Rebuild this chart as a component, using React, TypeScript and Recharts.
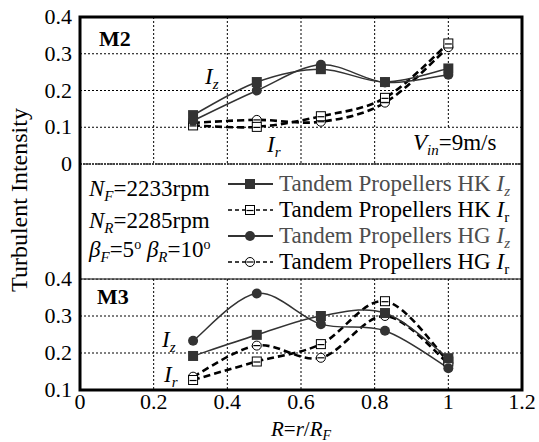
import React from 'react';
import { LineChart, Line, XAxis, YAxis, CartesianGrid } from 'recharts';

// ---- data ----
const radius = [0.307, 0.48, 0.654, 0.828, 1.0];
const xTicks = [0, 0.2, 0.4, 0.6, 0.8, 1, 1.2];
const m2YTicks = [0, 0.1, 0.2, 0.3, 0.4];
const m3YTicks = [0.1, 0.2, 0.3, 0.4];

const m2HkIz = [0.133, 0.223, 0.258, 0.223, 0.26];
const m2HgIz = [0.118, 0.2, 0.27, 0.222, 0.243];
const m2HkIr = [0.105, 0.101, 0.13, 0.18, 0.328];
const m2HgIr = [0.112, 0.12, 0.115, 0.167, 0.318];

const m3HkIz = [0.192, 0.249, 0.3, 0.308, 0.186];
const m3HgIz = [0.233, 0.361, 0.278, 0.26, 0.159];
const m3HkIr = [0.127, 0.177, 0.224, 0.34, 0.177];
const m3HgIr = [0.136, 0.22, 0.187, 0.3, 0.172];

const build = (hkIz: number[], hgIz: number[], hkIr: number[], hgIr: number[]) =>
  radius.map((r, i) => ({ r, hkIz: hkIz[i], hgIz: hgIz[i], hkIr: hkIr[i], hgIr: hgIr[i] }));

const m2Data = build(m2HkIz, m2HgIz, m2HkIr, m2HgIr);
const m3Data = build(m3HkIz, m3HgIz, m3HkIr, m3HgIr);

const FONT = '"Liberation Serif", "Times New Roman", serif';
const DARK = '#333';

// Catmull-Rom style smoothing (similar to spreadsheet smoothed lines)
const smoothCurve = (context: any) => {
  let pts: number[][] = [];
  return {
    areaStart() {},
    areaEnd() {},
    lineStart() {
      pts = [];
    },
    lineEnd() {
      const n = pts.length;
      if (!n) return;
      context.moveTo(pts[0][0], pts[0][1]);
      if (n === 2) {
        context.lineTo(pts[1][0], pts[1][1]);
        return;
      }
      const k = 1 / 6;
      for (let i = 0; i < n - 1; i++) {
        const p0 = pts[Math.max(i - 1, 0)];
        const p1 = pts[i];
        const p2 = pts[i + 1];
        const p3 = pts[Math.min(i + 2, n - 1)];
        context.bezierCurveTo(
          p1[0] + k * (p2[0] - p0[0]),
          p1[1] + k * (p2[1] - p0[1]),
          p2[0] - k * (p3[0] - p1[0]),
          p2[1] - k * (p3[1] - p1[1]),
          p2[0],
          p2[1]
        );
      }
    },
    point(x: number, y: number) {
      pts.push([+x, +y]);
    },
  };
};

// ---- markers ----
const filledSquare = (p: any) =>
  p.cx == null ? null : (
    <rect key={`fs-${p.index}`} x={p.cx - 5} y={p.cy - 5} width={10} height={10} fill={DARK} />
  );
const filledCircle = (p: any) =>
  p.cx == null ? null : <circle key={`fc-${p.index}`} cx={p.cx} cy={p.cy} r={5} fill={DARK} />;
const openSquare = (p: any) =>
  p.cx == null ? null : (
    <g key={`os-${p.index}`}>
      <rect x={p.cx - 4.5} y={p.cy - 4.5} width={9} height={9} fill="#fff" stroke="#000" strokeWidth={1} />
      <line x1={p.cx - 3.5} x2={p.cx + 3.5} y1={p.cy + 0.5} y2={p.cy + 0.5} stroke="#000" strokeWidth={1.2} />
    </g>
  );
const openCircle = (p: any) =>
  p.cx == null ? null : (
    <g key={`oc-${p.index}`}>
      <circle cx={p.cx} cy={p.cy} r={4.5} fill="#fff" stroke="#000" strokeWidth={1} />
      <line x1={p.cx - 3.5} x2={p.cx + 3.5} y1={p.cy} y2={p.cy} stroke="#000" strokeWidth={1.2} />
    </g>
  );

const YTick = (p: any) => (
  <text x={p.x} y={p.y} dy={7} textAnchor="end" style={{ fontFamily: FONT, fontSize: 22 }} fill="#000">
    {p.payload.value}
  </text>
);
const XTick = (p: any) => (
  <text x={p.x} y={p.y} dy={13} textAnchor="middle" style={{ fontFamily: FONT, fontSize: 22 }} fill="#000">
    {p.payload.value}
  </text>
);

const renderLines = () => [
  <Line key="hgIr" dataKey="hgIr" type={smoothCurve as any} stroke="#000" strokeWidth={2.6} strokeDasharray="7 4" dot={openCircle} isAnimationActive={false} />,
  <Line key="hkIr" dataKey="hkIr" type={smoothCurve as any} stroke="#000" strokeWidth={2.6} strokeDasharray="7 4" dot={openSquare} isAnimationActive={false} />,
  <Line key="hgIz" dataKey="hgIz" type={smoothCurve as any} stroke={DARK} strokeWidth={1.5} dot={filledCircle} isAnimationActive={false} />,
  <Line key="hkIz" dataKey="hkIz" type={smoothCurve as any} stroke={DARK} strokeWidth={1.5} dot={filledSquare} isAnimationActive={false} />,
];

const Sub = ({ children, italic = true }: { children: React.ReactNode; italic?: boolean }) => (
  <tspan fontSize={15} dy={5} fontStyle={italic ? 'italic' : 'normal'}>{children}</tspan>
);

const legendRows = [
  { label: 'Tandem Propellers HK ', sym: 'z', color: '#4d4d4d', dashed: false, marker: 'fs' },
  { label: 'Tandem Propellers HK ', sym: 'r', color: '#000', dashed: true, marker: 'os' },
  { label: 'Tandem Propellers HG ', sym: 'z', color: '#4d4d4d', dashed: false, marker: 'fc' },
  { label: 'Tandem Propellers HG ', sym: 'r', color: '#000', dashed: true, marker: 'oc' },
];

const T = { fontFamily: FONT };

export default function App() {
  const rowY = [184, 210, 236, 262];
  return (
    <div style={{ position: 'absolute', left: 0, top: 0, width: 539, height: 442, background: '#fff', fontFamily: FONT }}>
      <div style={{ position: 'absolute', left: 0, top: 0 }}>
        <LineChart width={539} height={442} data={m2Data} margin={{ top: 17, right: 17, bottom: 278, left: 20 }}>
          <CartesianGrid stroke="#000" strokeDasharray="2 2" strokeWidth={1} />
          <XAxis type="number" dataKey="r" domain={[0, 1.2]} ticks={xTicks} hide />
          <YAxis type="number" domain={[0, 0.4]} ticks={m2YTicks} width={60} axisLine={false} tickLine={false} tick={<YTick />} interval={0} />
          {renderLines()}
        </LineChart>
      </div>
      <div style={{ position: 'absolute', left: 0, top: 0 }}>
        <LineChart width={539} height={442} data={m3Data} margin={{ top: 279, right: 17, bottom: 0, left: 20 }}>
          <CartesianGrid stroke="#000" strokeDasharray="2 2" strokeWidth={1} />
          <XAxis type="number" dataKey="r" domain={[0, 1.2]} ticks={xTicks} height={52} axisLine={false} tickLine={false} tickMargin={0} tick={<XTick />} interval={0} />
          <YAxis type="number" domain={[0.1, 0.4]} ticks={m3YTicks} width={60} axisLine={false} tickLine={false} tick={<YTick />} interval={0} />
          {renderLines()}
        </LineChart>
      </div>
      <svg width={539} height={442} style={{ position: 'absolute', left: 0, top: 0, pointerEvents: 'none', fontFamily: FONT }}>
        {/* V_in box */}
        <rect x={411} y={128.5} width={110} height={34} fill="#fff" />
        {/* legend area background */}
        <rect x={81} y={165.5} width={440} height={113} fill="#fff" />
        <line x1={80} x2={522} y1={164} y2={164} stroke="#444" strokeWidth={2.2} strokeDasharray="2 1" />
        <line x1={80} x2={522} y1={279} y2={279} stroke="#000" strokeWidth={1.2} />
        <rect x={80} y={17} width={442} height={373} fill="none" stroke="#000" strokeWidth={3} />

        {/* Y label */}
        <text transform="translate(27,200) rotate(-90)" textAnchor="middle" style={{ ...T, fontSize: 24 }} fill="#000">Turbulent Intensity</text>
        {/* X label */}
        <text x={301} y={436} textAnchor="middle" style={{ ...T, fontSize: 21 }} fill="#000">
          <tspan fontStyle="italic">R</tspan>=<tspan fontStyle="italic">r</tspan>/<tspan fontStyle="italic">R</tspan>
          <tspan fontSize={14} dy={4} fontStyle="italic">F</tspan>
        </text>

        {/* panel annotations */}
        <text x={99} y={46} style={{ ...T, fontSize: 22, fontWeight: 'bold' }}>M2</text>
        <text x={205} y={84} style={{ ...T, fontSize: 23 }} fontStyle="italic">I<Sub>z</Sub></text>
        <text x={267} y={152} style={{ ...T, fontSize: 23 }} fontStyle="italic">I<Sub>r</Sub></text>
        <text x={413} y={150} style={{ ...T, fontSize: 23 }}>
          <tspan fontStyle="italic">V</tspan><Sub>in</Sub><tspan dy={-5}>=9m/s</tspan>
        </text>

        <text x={97} y={304} style={{ ...T, fontSize: 22, fontWeight: 'bold' }}>M3</text>
        <text x={162} y={347} style={{ ...T, fontSize: 23 }} fontStyle="italic">I<Sub>z</Sub></text>
        <text x={164} y={382} style={{ ...T, fontSize: 23 }} fontStyle="italic">I<Sub>r</Sub></text>

        {/* legend left text */}
        <text x={89} y={196} style={{ ...T, fontSize: 23 }}>
          <tspan fontStyle="italic">N</tspan><Sub>F</Sub><tspan dy={-5}>=2233rpm</tspan>
        </text>
        <text x={89} y={228} style={{ ...T, fontSize: 23 }}>
          <tspan fontStyle="italic">N</tspan><Sub>R</Sub><tspan dy={-5}>=2285rpm</tspan>
        </text>
        <text x={89} y={257} style={{ ...T, fontSize: 23 }}>
          <tspan fontStyle="italic">β</tspan><Sub>F</Sub><tspan dy={-5}>=5</tspan><tspan fontSize={14} dy={-8}>o</tspan>
          <tspan dy={8}> </tspan><tspan fontStyle="italic">β</tspan><Sub>R</Sub><tspan dy={-5}>=10</tspan><tspan fontSize={14} dy={-8}>o</tspan>
        </text>

        {/* legend rows */}
        {legendRows.map((row, i) => {
          const y = rowY[i];
          const cx = 250;
          return (
            <g key={i}>
              <line x1={228} x2={273} y1={y} y2={y} stroke={row.dashed ? '#000' : DARK} strokeWidth={row.dashed ? 1.6 : 1.8} strokeDasharray={row.dashed ? '4 3' : undefined} />
              {row.marker === 'fs' && filledSquare({ cx, cy: y, index: i })}
              {row.marker === 'fc' && filledCircle({ cx, cy: y, index: i })}
              {row.marker === 'os' && openSquare({ cx, cy: y, index: i })}
              {row.marker === 'oc' && openCircle({ cx, cy: y, index: i })}
              <text x={279} y={y + 7} style={{ ...T, fontSize: 23 }} fill={row.color}>
                {row.label}
                <tspan fontStyle="italic">I</tspan>
                <tspan fontSize={15} dy={5} fontStyle={row.sym === 'z' ? 'italic' : 'normal'}>{row.sym}</tspan>
              </text>
            </g>
          );
        })}
      </svg>
    </div>
  );
}
